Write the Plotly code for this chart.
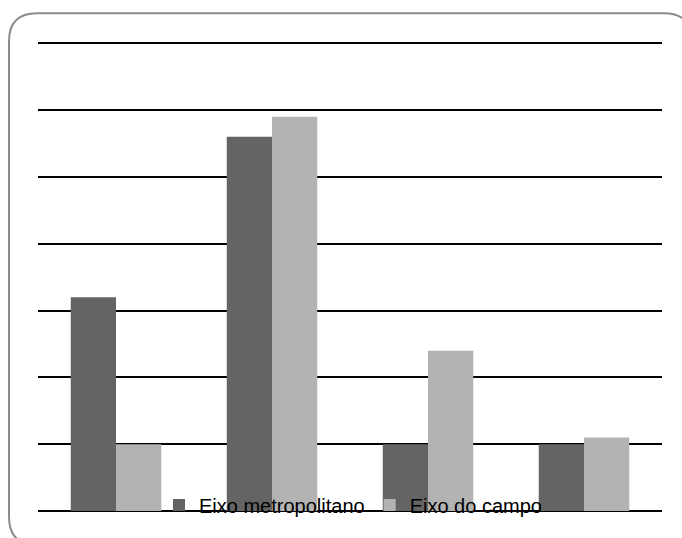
import plotly.graph_objects as go

categories = ["A", "B", "C", "D"]
series_names = ["Eixo metropolitano", "Eixo do campo"]
metropolitano = [3.2, 5.6, 1.0, 1.0]
campo = [1.0, 5.9, 2.4, 1.1]
colors = ["#646464", "#b3b3b3"]

W, H = 682, 538
YMAX = 7.02
ML, MR, MB = 38, 20, 27
PLOT_H = 468 * YMAX / 7
MT = H - MB - PLOT_H
PW = W - ML - MR

def px(x):
    return (x - ML) / PW

def py(y):
    return (H - MB - y) / PLOT_H

# rounded border path (pixel geometry converted to paper coords)
L, T, R, B, r = 9, 13, 692, 545, 28
path = (
    f"M {px(L+r)},{py(T)} L {px(R-r)},{py(T)} Q {px(R)},{py(T)} {px(R)},{py(T+r)} "
    f"L {px(R)},{py(B-r)} Q {px(R)},{py(B)} {px(R-r)},{py(B)} "
    f"L {px(L+r)},{py(B)} Q {px(L)},{py(B)} {px(L)},{py(B-r)} "
    f"L {px(L)},{py(T+r)} Q {px(L)},{py(T)} {px(L+r)},{py(T)} Z"
)

fig = go.Figure()
for name, vals, c in zip(series_names, [metropolitano, campo], colors):
    fig.add_trace(go.Bar(x=categories, y=vals, name=name, marker_color=c,
                         marker_line_width=0))

fig.update_layout(
    width=W, height=H,
    margin=dict(l=ML, r=MR, t=MT, b=MB, autoexpand=False),
    paper_bgcolor="white", plot_bgcolor="white",
    barmode="group", bargap=0.42, bargroupgap=0,
    xaxis=dict(showticklabels=False, showgrid=False, zeroline=False, showline=False),
    yaxis=dict(range=[0, YMAX], tick0=0, dtick=1, showticklabels=False, showgrid=True,
               gridcolor="black", gridwidth=2, zeroline=True, zerolinecolor="black",
               zerolinewidth=2, showline=False),
    showlegend=True,
    legend=dict(orientation="h", x=px(159), xanchor="left", y=py(505), yanchor="middle",
                bgcolor="rgba(0,0,0,0)", font=dict(family="Liberation Sans", size=20, color="black"),
                traceorder="normal"),
    shapes=[dict(type="path", path=path, xref="paper", yref="paper",
                 line=dict(color="#8c8c8c", width=2), fillcolor="rgba(0,0,0,0)", layer="above")],
)

fig.write_html("out.html")
